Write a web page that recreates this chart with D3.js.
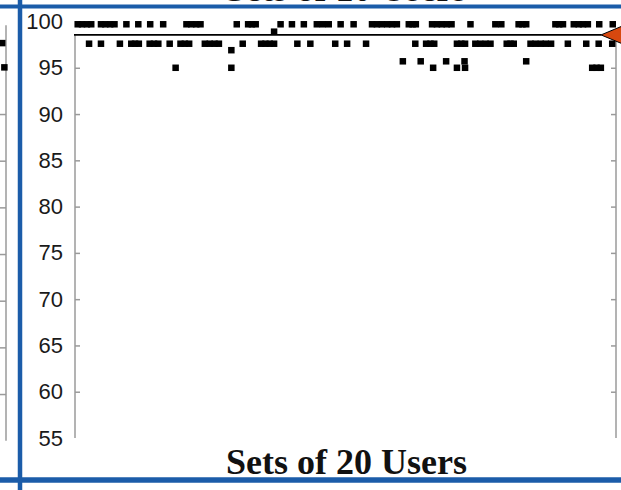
<!DOCTYPE html>
<html>
  <head>
    <meta charset="UTF-8">
    <style>
      body {
        margin: 0;
        background: white;
      }

      svg {
        display: block;
      }

      .y-axis text {
        font-family: 'Liberation Sans', Arial, Helvetica, sans-serif;
        font-size: 22px;
        fill: #1a1a1a;
      }

      .y-axis line,
      .axis-line {
        stroke: #9a9a9a;
        stroke-width: 1.5;
      }

      .y-axis .domain {
        opacity: 0;
      }

      .title {
        font-family: 'Liberation Serif', 'Times New Roman', serif;
        font-weight: bold;
        font-size: 36px;
        fill: #111;
      }
    </style>
    <script src="https://d3js.org/d3.v7.min.js"></script>
  </head>

  <body>
    <svg id="chart"></svg>

    <script type="text/javascript">
      // y tick labels
      let yTicks = [55, 60, 65, 70, 75, 80, 85, 90, 95, 100]

      // score of each row of sets, and which sets sit on it (set number 0-100)
      let scoreTop = 99.7
      let setsTop = [0.5, 1.3, 2.2, 3.0, 4.8, 5.6, 6.5, 7.3, 9.5, 11.7, 13.9, 16.3,
        20.6, 21.5, 22.4, 23.2, 29.9, 32.0, 32.7, 33.4, 38.0, 40.1, 42.3, 44.7, 45.8,
        46.9, 49.1, 51.5, 54.9, 55.8, 56.7, 57.7, 58.6, 59.5, 61.7, 62.4, 63.0, 66.0,
        66.9, 67.8, 68.7, 69.6, 73.1, 77.7, 78.8, 82.0, 82.7, 83.4, 88.8, 89.5, 90.2,
        92.2, 93.1, 93.9, 94.8, 96.9, 99.4]

      let scoreSecond = 97.6
      let setsSecond = [2.6, 4.8, 8.3, 10.4, 11.1, 11.8, 13.8, 14.6, 15.4, 17.5, 19.5,
        20.3, 21.1, 24.0, 24.9, 25.8, 26.6, 31.0, 34.4, 35.2, 36.0, 36.8, 41.1, 43.5,
        48.1, 50.3, 53.8, 62.9, 64.9, 65.7, 66.4, 70.6, 71.4, 72.1, 74.0, 74.9, 75.9,
        76.8, 79.8, 80.5, 81.1, 84.2, 85.1, 86.1, 87.0, 88.0, 91.1, 94.5, 96.8, 99.3]

      let scoreLowA = 95.7
      let setsLowA = [60.6, 63.9, 68.6, 72.0, 83.4]

      let scoreLowB = 95.0
      let setsLowB = [18.6, 28.9, 66.2, 70.6, 72.1, 95.6, 96.4, 97.2]

      let oddSets = [36.8, 28.9]
      let oddScores = [98.9, 96.9]

      // marked level (black line + arrow)
      let threshold = 98.55

      // the panel on the left, cut off by the crop
      let leftSets = [99.3, 99.7]
      let leftScores = [97.6, 95.0]
      let leftTicks = [60, 65, 70, 75, 80, 85, 90]

      function buildPoints() {
        let points = []
        setsTop.forEach(s => points.push({ set: s, score: scoreTop }))
        setsSecond.forEach(s => points.push({ set: s, score: scoreSecond }))
        setsLowA.forEach(s => points.push({ set: s, score: scoreLowA }))
        setsLowB.forEach(s => points.push({ set: s, score: scoreLowB }))
        oddSets.forEach((s, i) => points.push({ set: s, score: oddScores[i] }))
        return points
      }

      function getChartConfig() {
        let width = 621
        let height = 490
        let container = d3.select('#chart')
          .attr('width', width)
          .attr('height', height)
        return { width, height, container }
      }

      function drawChart(points, config) {
        let svg = config.container
        let markSize = 6.5
        let blue = '#1b5ca9'

        let x = d3.scaleLinear().domain([0, 100]).range([75, 616])
        let y = d3.scaleLinear().domain([55, 100]).range([438, 21.5])

        // left (cut) panel
        let leftX = d3.scaleLinear().domain([0, 100]).range([-535, 6])
        let leftY = d3.scaleLinear().domain([55, 100]).range([440.7, 20.7])

        let left = svg.append('g')
        left.append('line')
          .attr('class', 'axis-line')
          .attr('x1', 6).attr('x2', 6)
          .attr('y1', leftY(99.5)).attr('y2', leftY(55))
        left.append('g')
          .attr('class', 'y-axis')
          .attr('transform', 'translate(6, 0)')
          .call(d3.axisRight(leftY).tickValues(leftTicks).tickSizeInner(-6).tickSizeOuter(0).tickFormat(''))
        left.selectAll('rect')
          .data(leftSets)
          .enter()
          .append('rect')
          .attr('x', (d, i) => leftX(d) - markSize / 2)
          .attr('y', (d, i) => leftY(leftScores[i]) - markSize / 2)
          .attr('width', markSize)
          .attr('height', markSize)
          .attr('fill', 'black')

        // main panel axes
        svg.append('line')
          .attr('class', 'axis-line')
          .attr('x1', x(0)).attr('x2', x(0))
          .attr('y1', y(threshold)).attr('y2', y(55))
        svg.append('line')
          .attr('class', 'axis-line')
          .attr('x1', x(100)).attr('x2', x(100))
          .attr('y1', y(threshold)).attr('y2', y(55))

        let yAxis = svg.append('g')
          .attr('class', 'y-axis')
          .attr('transform', `translate(${x(0)}, 0)`)
          .call(d3.axisLeft(y).tickValues(yTicks).tickSizeInner(-5).tickSizeOuter(0).tickPadding(12))
        yAxis.selectAll('.tick line').filter(d => d >= threshold || d == 55).remove()

        let yAxisRight = svg.append('g')
          .attr('class', 'y-axis')
          .attr('transform', `translate(${x(100)}, 0)`)
          .call(d3.axisRight(y).tickValues(yTicks.filter(d => d > 55 && d < threshold))
            .tickSizeInner(-5).tickSizeOuter(0).tickFormat(''))

        // threshold line
        let tipX = x(100) - 15
        svg.append('line')
          .attr('x1', x(0) - 1).attr('x2', tipX)
          .attr('y1', y(threshold)).attr('y2', y(threshold))
          .attr('stroke', 'black')
          .attr('stroke-width', 1.6)

        // markers
        svg.append('g')
          .selectAll('rect')
          .data(points)
          .enter()
          .append('rect')
          .attr('x', d => x(d.set) - markSize / 2)
          .attr('y', d => y(d.score) - markSize / 2)
          .attr('width', markSize)
          .attr('height', markSize)
          .attr('fill', 'black')

        // orange arrow
        let ty = y(threshold)
        svg.append('path')
          .attr('d', `M${tipX},${ty} L${tipX + 30},${ty - 12.5} L${tipX + 30},${ty + 12.5} Z`)
          .attr('fill', '#d8480f')
          .attr('stroke', 'black')
          .attr('stroke-width', 1)

        // titles (the upper one belongs to the panel above, mostly cut off)
        svg.append('text')
          .attr('class', 'title')
          .attr('x', 346)
          .attr('y', 0.5)
          .attr('text-anchor', 'middle')
          .attr('fill', '#333')
          .text('Sets of 10 Users')

        svg.append('text')
          .attr('class', 'title')
          .attr('x', 346.5)
          .attr('y', 474)
          .attr('text-anchor', 'middle')
          .text('Sets of 20 Users')

        // blue frame
        svg.append('line')
          .attr('x1', 0).attr('x2', config.width)
          .attr('y1', 6.5).attr('y2', 6.5)
          .attr('stroke', blue).attr('stroke-width', 4)
        svg.append('line')
          .attr('x1', 0).attr('x2', config.width)
          .attr('y1', 480).attr('y2', 480)
          .attr('stroke', blue).attr('stroke-width', 5.5)
        svg.append('line')
          .attr('x1', 20).attr('x2', 20)
          .attr('y1', 0).attr('y2', config.height)
          .attr('stroke', blue).attr('stroke-width', 4.5)
      }

      let config = getChartConfig()
      drawChart(buildPoints(), config)
    </script>
  </body>
</html>
